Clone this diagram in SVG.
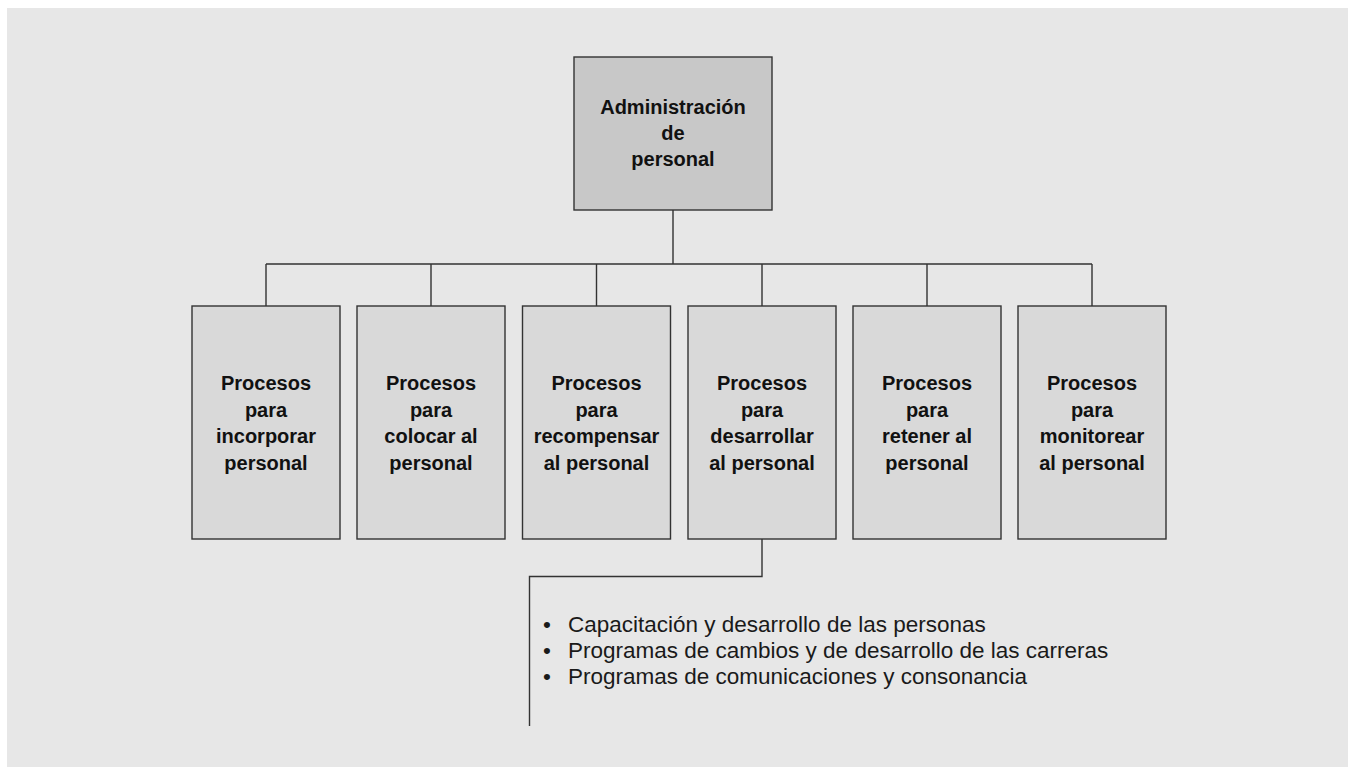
<svg xmlns="http://www.w3.org/2000/svg" width="1348" height="767" viewBox="0 0 1348 767">
<style>
.bg{fill:#e7e7e7}
.root{fill:#c8c8c8;stroke:#333;stroke-width:1.4}
.box{fill:#d9d9d9;stroke:#333;stroke-width:1.4}
.lbl{font-family:"Liberation Sans",Arial,sans-serif;font-weight:bold;font-size:20px;fill:#111;text-anchor:middle}
.conn{fill:none;stroke:#333;stroke-width:1.4}
.item{font-family:"Liberation Sans",Arial,sans-serif;font-size:22.5px;fill:#1a1a1a}
</style>
<rect class="bg" x="7" y="8" width="1341" height="759"/>
<g id="connectors">
<path class="conn" d="M673,210 V264 M266,264 H1092 M266,264 V306 M431,264 V306 M596.5,264 V306 M762,264 V306 M927,264 V306 M1092,264 V306"/>
<path class="conn" d="M762,539 V576.5 H529.5 V726"/>
</g>
<g id="admin">
<rect class="root" x="574" y="57" width="198" height="153"/>
<text class="lbl" x="673" y="114">Administración</text>
<text class="lbl" x="673" y="140">de</text>
<text class="lbl" x="673" y="166">personal</text>
</g>
<g id="incorporar">
<rect class="box" x="192" y="306" width="148" height="233"/>
<text class="lbl" x="266" y="390">Procesos</text>
<text class="lbl" x="266" y="416.7">para</text>
<text class="lbl" x="266" y="443.3">incorporar</text>
<text class="lbl" x="266" y="470">personal</text>
</g>
<g id="colocar">
<rect class="box" x="357" y="306" width="148" height="233"/>
<text class="lbl" x="431" y="390">Procesos</text>
<text class="lbl" x="431" y="416.7">para</text>
<text class="lbl" x="431" y="443.3">colocar al</text>
<text class="lbl" x="431" y="470">personal</text>
</g>
<g id="recompensar">
<rect class="box" x="522.5" y="306" width="148" height="233"/>
<text class="lbl" x="596.5" y="390">Procesos</text>
<text class="lbl" x="596.5" y="416.7">para</text>
<text class="lbl" x="596.5" y="443.3">recompensar</text>
<text class="lbl" x="596.5" y="470">al personal</text>
</g>
<g id="desarrollar">
<rect class="box" x="688" y="306" width="148" height="233"/>
<text class="lbl" x="762" y="390">Procesos</text>
<text class="lbl" x="762" y="416.7">para</text>
<text class="lbl" x="762" y="443.3">desarrollar</text>
<text class="lbl" x="762" y="470">al personal</text>
</g>
<g id="retener">
<rect class="box" x="853" y="306" width="148" height="233"/>
<text class="lbl" x="927" y="390">Procesos</text>
<text class="lbl" x="927" y="416.7">para</text>
<text class="lbl" x="927" y="443.3">retener al</text>
<text class="lbl" x="927" y="470">personal</text>
</g>
<g id="monitorear">
<rect class="box" x="1018" y="306" width="148" height="233"/>
<text class="lbl" x="1092" y="390">Procesos</text>
<text class="lbl" x="1092" y="416.7">para</text>
<text class="lbl" x="1092" y="443.3">monitorear</text>
<text class="lbl" x="1092" y="470">al personal</text>
</g>
<g id="detail">
<text class="item" y="632"><tspan x="543">•</tspan><tspan x="568">Capacitación y desarrollo de las personas</tspan></text>
<text class="item" y="658"><tspan x="543">•</tspan><tspan x="568">Programas de cambios y de desarrollo de las carreras</tspan></text>
<text class="item" y="684"><tspan x="543">•</tspan><tspan x="568">Programas de comunicaciones y consonancia</tspan></text>
</g>
</svg>
